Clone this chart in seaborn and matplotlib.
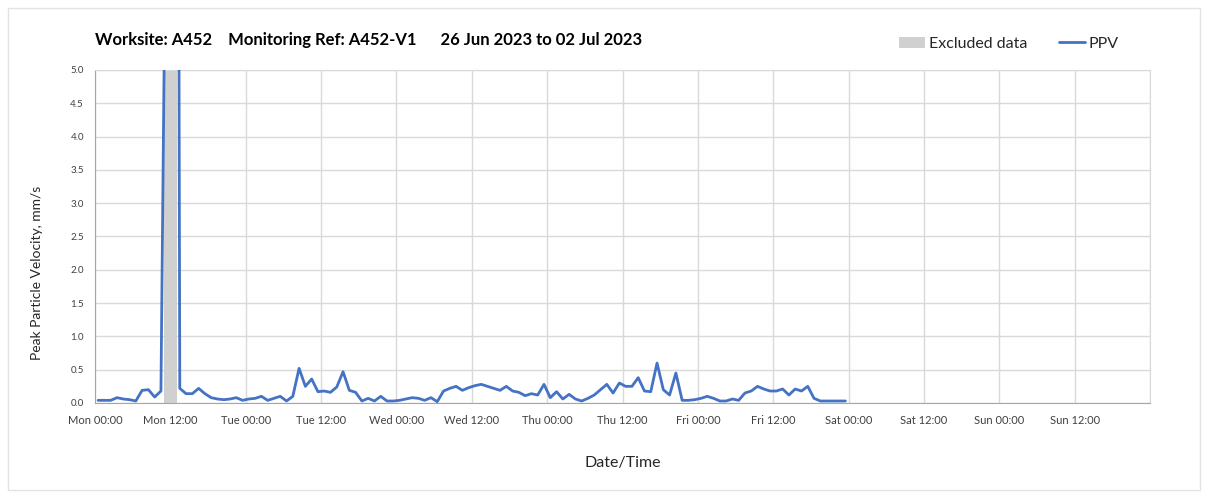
import numpy as np
import pandas as pd
import matplotlib
matplotlib.use("Agg")
import matplotlib.pyplot as plt
import matplotlib.dates as mdates
from matplotlib.patches import Patch, Rectangle
from matplotlib.lines import Line2D
import seaborn as sns

TITLE = "Worksite: A452    Monitoring Ref: A452-V1      26 Jun 2023 to 02 Jul 2023"
START = "2023-06-26 00:00"
END = "2023-07-03 00:00"
FIRST_READING = "2023-06-26 00:30"
EXCLUDED_FROM = "2023-06-26 11:00"
EXCLUDED_TO = "2023-06-26 13:00"

# hourly PPV readings in mm/s (the two spike values run off the top of the chart)
ppv = [
    # Mon
    0.04, 0.04, 0.04, 0.08, 0.06, 0.05, 0.03, 0.19, 0.20, 0.09, 0.18, 9.8,
    40.0, 0.22, 0.14, 0.14, 0.22, 0.14, 0.08, 0.06, 0.05, 0.06, 0.08, 0.04,
    # Tue
    0.06, 0.07, 0.10, 0.04, 0.07, 0.10, 0.03, 0.10, 0.52, 0.25, 0.36, 0.17,
    0.18, 0.16, 0.24, 0.47, 0.19, 0.16, 0.03, 0.07, 0.03, 0.10, 0.03, 0.03,
    # Wed
    0.04, 0.06, 0.08, 0.07, 0.04, 0.08, 0.02, 0.18, 0.22, 0.25, 0.19, 0.23,
    0.26, 0.28, 0.25, 0.22, 0.19, 0.25, 0.18, 0.16, 0.11, 0.14, 0.12, 0.28,
    # Thu
    0.08, 0.17, 0.06, 0.13, 0.06, 0.03, 0.07, 0.12, 0.20, 0.28, 0.15, 0.30,
    0.25, 0.25, 0.38, 0.18, 0.17, 0.60, 0.20, 0.12, 0.45, 0.04, 0.04, 0.05,
    # Fri
    0.07, 0.10, 0.07, 0.03, 0.03, 0.06, 0.04, 0.15, 0.18, 0.25, 0.21, 0.18,
    0.18, 0.21, 0.12, 0.21, 0.18, 0.25, 0.07, 0.03, 0.03, 0.03, 0.03, 0.03,
]

LINE_BLUE = "#4472C4"
EXCL_GREY = "#d0d0d0"
GRID_GREY = "#d9d9d9"
AXIS_GREY = "#a6a6a6"
TEXT_DARK = "#262626"

times = pd.date_range(FIRST_READING, periods=len(ppv), freq="h")
df = pd.DataFrame({"time": times, "ppv": ppv})

sns.set_style("white")
plt.rcParams["font.family"] = ["Lato", "DejaVu Sans"]

W, H = 1208, 498
fig = plt.figure(figsize=(W / 100, H / 100), dpi=100)
ax = fig.add_axes([95 / W, 1 - 403 / H, (1150 - 95) / W, (403 - 70) / H])

# faint frame round the whole picture
fig.patches.append(Rectangle((8 / W, 8 / H), 1 - 16 / W, 1 - 16 / H,
                             transform=fig.transFigure, fill=False,
                             edgecolor="#e3e3e3", linewidth=1))

ax.axvspan(pd.Timestamp(EXCLUDED_FROM), pd.Timestamp(EXCLUDED_TO),
           color=EXCL_GREY, zorder=1, linewidth=0)
sns.lineplot(data=df, x="time", y="ppv", ax=ax, color=LINE_BLUE,
             linewidth=2.0, zorder=3)


def day_label(x, pos):
    t = mdates.num2date(x).replace(tzinfo=None)
    # the closing tick at the right edge carries no label
    if t >= pd.Timestamp(END):
        return ""
    return t.strftime("%a %H:%M")


ax.set_xlim(pd.Timestamp(START), pd.Timestamp(END))
ax.set_ylim(0, 5)
ax.set_yticks(np.arange(0, 5.01, 0.5))
ax.yaxis.set_major_formatter(plt.FormatStrFormatter("%.1f"))
ax.xaxis.set_major_locator(mdates.HourLocator(byhour=[0, 12]))
ax.xaxis.set_major_formatter(plt.FuncFormatter(day_label))

ax.grid(True, color=GRID_GREY, linewidth=1, zorder=0)
ax.set_axisbelow(True)
for side in ["left", "bottom"]:
    ax.spines[side].set_color(AXIS_GREY)
for side in ["top", "right"]:
    ax.spines[side].set_color(GRID_GREY)
ax.tick_params(axis="both", direction="out", length=5, color=AXIS_GREY,
               labelcolor="#404040")
ax.tick_params(axis="x", labelsize=8, pad=4)
ax.tick_params(axis="y", labelsize=7, pad=3)

ax.set_xlabel("Date/Time", fontsize=11.5, color=TEXT_DARK)
ax.xaxis.set_label_coords(0.5, -0.159)
ax.set_ylabel("Peak Particle Velocity, mm/s", fontsize=10, color=TEXT_DARK)
ax.yaxis.set_label_coords(-0.049, 0.39)

fig.text(95 / W, 1 - 40 / H, TITLE, fontsize=12, fontweight="bold",
         color="#000000", ha="left", va="center")

handles = [Patch(facecolor=EXCL_GREY, edgecolor="none", label="Excluded data"),
           Line2D([], [], color=LINE_BLUE, linewidth=2, label="PPV")]
fig.legend(handles=handles, loc="center right",
           bbox_to_anchor=(1133 / W, 1 - 44 / H), ncol=2, frameon=False,
           fontsize=11.5, handlelength=1.6, handletextpad=0.25,
           columnspacing=2.0, labelcolor=TEXT_DARK)

fig.savefig("out.png", dpi=100)
plt.close(fig)
